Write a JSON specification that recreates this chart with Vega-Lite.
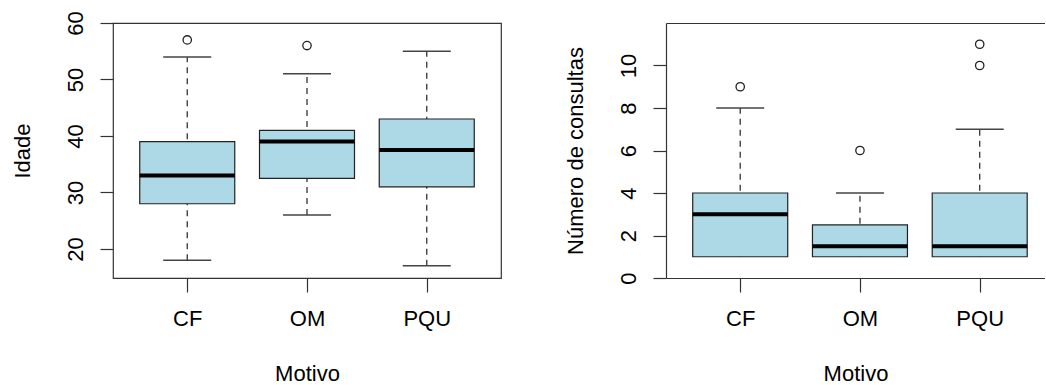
{
  "$schema": "https://vega.github.io/schema/vega-lite/v6.json",
  "padding": {"left": 10, "top": 10, "right": 0, "bottom": 0},
  "bounds": "flush",
  "spacing": 165,
  "background": "white",
  "datasets": {
    "idade": [
      {"motivo": "CF", "lower": 18, "q1": 28, "median": 33, "q3": 39, "upper": 54},
      {"motivo": "OM", "lower": 26, "q1": 32.5, "median": 39, "q3": 41, "upper": 51},
      {"motivo": "PQU", "lower": 17, "q1": 31, "median": 37.5, "q3": 43, "upper": 55}
    ],
    "idade_out": [
      {"motivo": "CF", "value": 57},
      {"motivo": "OM", "value": 56}
    ],
    "consultas": [
      {"motivo": "CF", "lower": 1, "q1": 1, "median": 3, "q3": 4, "upper": 8},
      {"motivo": "OM", "lower": 1, "q1": 1, "median": 1.5, "q3": 2.5, "upper": 4},
      {"motivo": "PQU", "lower": 1, "q1": 1, "median": 1.5, "q3": 4, "upper": 7}
    ],
    "consultas_out": [
      {"motivo": "CF", "value": 9},
      {"motivo": "OM", "value": 6},
      {"motivo": "PQU", "value": 10},
      {"motivo": "PQU", "value": 11}
    ]
  },
  "config": {
    "font": "Liberation Sans",
    "axis": {
      "labelFont": "Liberation Sans",
      "titleFont": "Liberation Sans",
      "labelFontSize": 22,
      "titleFontSize": 22,
      "titleFontWeight": "normal",
      "labelColor": "black",
      "titleColor": "black",
      "tickColor": "#333",
      "tickWidth": 1.2,
      "domainColor": "#333",
      "domainWidth": 1.2,
      "grid": false
    }
  },
  "hconcat": [
    {
      "width": 388,
      "height": 255,
      "view": {"stroke": "#333", "strokeWidth": 1.2},
      "layer": [
        {
          "data": {"name": "idade"},
          "mark": {"type": "rule", "strokeDash": [6, 5], "color": "#333", "strokeWidth": 1.3},
          "encoding": {
            "x": {"field": "motivo", "type": "nominal", "sort": ["CF", "OM", "PQU"],
              "scale": {"type": "point", "padding": 0.62},
              "axis": {"title": "Motivo", "labelAngle": 0, "tickSize": 14, "labelPadding": 16, "titlePadding": 34, "domain": false}},
            "y": {"field": "lower", "type": "quantitative",
              "scale": {"domain": [14.85, 60], "nice": false, "zero": false},
              "axis": {"title": "Idade", "values": [20, 30, 40, 50, 60], "labelAngle": -90, "labelAlign": "center", "labelBaseline": "alphabetic", "tickSize": 13, "labelPadding": 18, "titlePadding": 30, "domain": false}},
            "y2": {"field": "upper"}
          }
        },
        {
          "data": {"name": "idade"},
          "mark": {"type": "bar", "fill": "#ADD8E6", "stroke": "#222", "strokeWidth": 1.2, "size": 95},
          "encoding": {
            "x": {"field": "motivo", "type": "nominal", "sort": ["CF", "OM", "PQU"]},
            "y": {"field": "q1", "type": "quantitative"},
            "y2": {"field": "q3"}
          }
        },
        {
          "data": {"name": "idade"},
          "mark": {"type": "tick", "color": "black", "thickness": 4, "size": 95, "opacity": 1},
          "encoding": {
            "x": {"field": "motivo", "type": "nominal", "sort": ["CF", "OM", "PQU"]},
            "y": {"field": "median", "type": "quantitative"}
          }
        },
        {
          "data": {"name": "idade"},
          "mark": {"type": "tick", "color": "#444", "thickness": 1.5, "size": 48, "opacity": 1},
          "encoding": {
            "x": {"field": "motivo", "type": "nominal", "sort": ["CF", "OM", "PQU"]},
            "y": {"field": "lower", "type": "quantitative"}
          }
        },
        {
          "data": {"name": "idade"},
          "mark": {"type": "tick", "color": "#444", "thickness": 1.5, "size": 48, "opacity": 1},
          "encoding": {
            "x": {"field": "motivo", "type": "nominal", "sort": ["CF", "OM", "PQU"]},
            "y": {"field": "upper", "type": "quantitative"}
          }
        },
        {
          "data": {"name": "idade_out"},
          "mark": {"type": "point", "shape": "circle", "filled": false, "size": 70, "stroke": "#222", "strokeWidth": 1.3, "opacity": 1},
          "encoding": {
            "x": {"field": "motivo", "type": "nominal", "sort": ["CF", "OM", "PQU"]},
            "y": {"field": "value", "type": "quantitative"}
          }
        }
      ]
    },
    {
      "width": 379,
      "height": 255,
      "view": {"stroke": null},
      "resolve": {"axis": {"x": "independent"}},
      "layer": [
        {
          "data": {"name": "consultas"},
          "mark": {"type": "rule", "strokeDash": [6, 5], "color": "#333", "strokeWidth": 1.3},
          "encoding": {
            "x": {"field": "motivo", "type": "nominal", "sort": ["CF", "OM", "PQU"],
              "scale": {"type": "point", "padding": 0.5825, "align": 0.532},
              "axis": {"orient": "top", "title": null, "labels": false, "ticks": false, "domain": true}},
            "y": {"field": "lower", "type": "quantitative",
              "scale": {"domain": [0, 12], "nice": false, "zero": false},
              "axis": {"title": "Número de consultas", "values": [0, 2, 4, 6, 8, 10], "labelAngle": -90, "labelAlign": "center", "labelBaseline": "alphabetic", "tickSize": 13, "labelPadding": 18, "titlePadding": 30, "domain": true}},
            "y2": {"field": "upper"}
          }
        },
        {
          "data": {"name": "consultas"},
          "mark": {"type": "bar", "fill": "#ADD8E6", "stroke": "#222", "strokeWidth": 1.2, "size": 95},
          "encoding": {
            "x": {"field": "motivo", "type": "nominal", "sort": ["CF", "OM", "PQU"],
              "axis": {"orient": "bottom", "title": "Motivo", "labelAngle": 0, "tickSize": 14, "labelPadding": 16, "titlePadding": 34, "domain": true}},
            "y": {"field": "q1", "type": "quantitative"},
            "y2": {"field": "q3"}
          }
        },
        {
          "data": {"name": "consultas"},
          "mark": {"type": "tick", "color": "black", "thickness": 4, "size": 95, "opacity": 1},
          "encoding": {
            "x": {"field": "motivo", "type": "nominal", "sort": ["CF", "OM", "PQU"], "axis": null},
            "y": {"field": "median", "type": "quantitative"}
          }
        },
        {
          "data": {"name": "consultas"},
          "mark": {"type": "tick", "color": "#444", "thickness": 1.5, "size": 48, "opacity": 1},
          "encoding": {
            "x": {"field": "motivo", "type": "nominal", "sort": ["CF", "OM", "PQU"], "axis": null},
            "y": {"field": "upper", "type": "quantitative"}
          }
        },
        {
          "data": {"name": "consultas_out"},
          "mark": {"type": "point", "shape": "circle", "filled": false, "size": 70, "stroke": "#222", "strokeWidth": 1.3, "opacity": 1},
          "encoding": {
            "x": {"field": "motivo", "type": "nominal", "sort": ["CF", "OM", "PQU"], "axis": null},
            "y": {"field": "value", "type": "quantitative"}
          }
        }
      ]
    }
  ]
}
